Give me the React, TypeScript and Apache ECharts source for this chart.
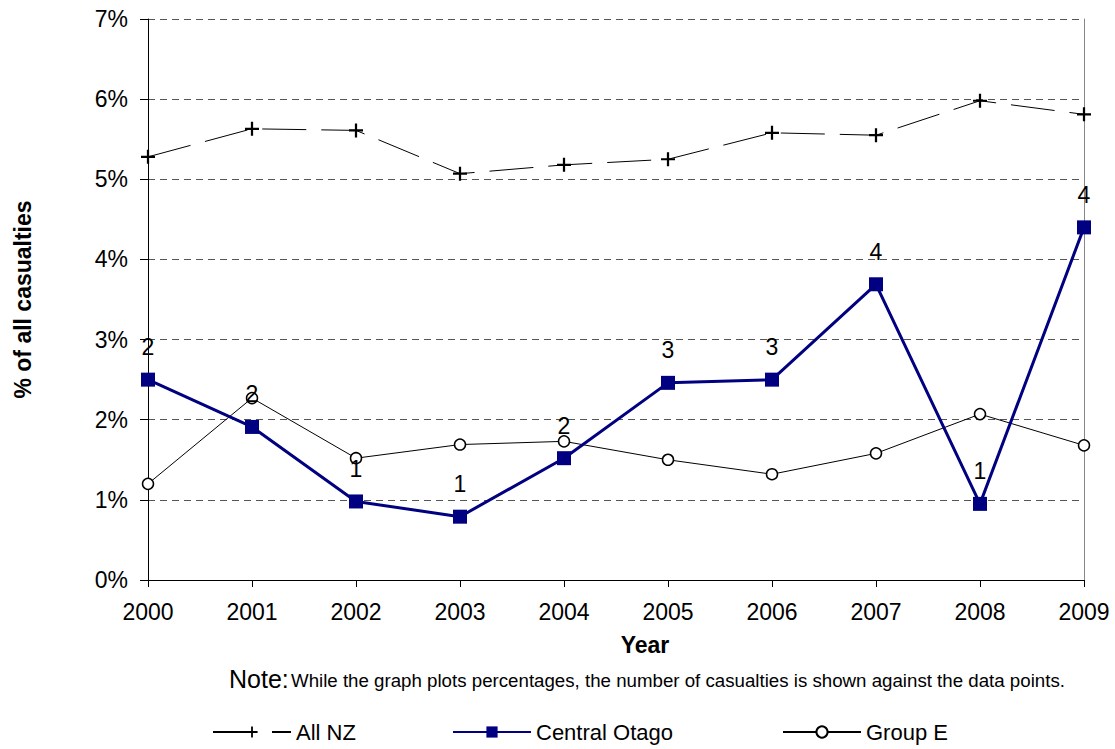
import React, { useEffect, useRef } from "react";
import * as echarts from "echarts";

const years = ["2000", "2001", "2002", "2003", "2004", "2005", "2006", "2007", "2008", "2009"];
const allNZ = [5.28, 5.63, 5.61, 5.07, 5.18, 5.25, 5.58, 5.55, 5.98, 5.81];
const centralOtago = [2.5, 1.91, 0.98, 0.79, 1.52, 2.46, 2.5, 3.69, 0.95, 4.4];
const groupE = [1.2, 2.27, 1.52, 1.69, 1.73, 1.5, 1.32, 1.58, 2.07, 1.68];
const casualtyCounts = [2, 2, 1, 1, 2, 3, 3, 4, 1, 4];

const FONT = "Liberation Sans, Arial, Helvetica, sans-serif";
const PLUS = "path://M4.2,0H5.8V4.2H10V5.8H5.8V10H4.2V5.8H0V4.2H4.2Z";

export default function App() {
  const ref = useRef<HTMLDivElement>(null);
  useEffect(() => {
    if (!ref.current) return;
    const chart = echarts.init(ref.current, null, { renderer: "svg" });
    const legendBase = {
      top: 719,
      itemWidth: 78,
      itemHeight: 14,
      itemGap: 5,
      padding: 2,
      textStyle: { fontFamily: FONT, fontSize: 22, color: "#000" },
    };
    chart.setOption({
      animation: false,
      backgroundColor: "#fff",
      textStyle: { fontFamily: FONT },
      grid: { left: 148, right: 31, top: 19, bottom: 169, containLabel: false },
      legend: [
        { ...legendBase, left: 210, data: ["All NZ"] },
        { ...legendBase, left: 450, data: ["Central Otago"] },
        { ...legendBase, left: 780, data: ["Group E"] },
      ],
      xAxis: {
        type: "category",
        data: years,
        boundaryGap: false,
        name: "Year",
        nameLocation: "middle",
        nameGap: 53,
        nameTextStyle: { fontFamily: FONT, fontSize: 23, fontWeight: "bold", color: "#000", padding: [0, 0, 0, 58] },
        axisLine: { lineStyle: { color: "#000", width: 1 } },
        axisTick: { show: true, alignWithLabel: true, length: 7, lineStyle: { color: "#000" } },
        axisLabel: { fontFamily: FONT, fontSize: 23, color: "#000", margin: 20 },
        splitLine: { show: false },
      },
      yAxis: [
        {
          type: "value",
          min: 0,
          max: 7,
          interval: 1,
          name: "% of all casualties",
          nameLocation: "middle",
          nameRotate: 90,
          nameGap: 114,
          nameTextStyle: { fontFamily: FONT, fontSize: 23, fontWeight: "bold", color: "#000" },
          axisLine: { show: true, lineStyle: { color: "#000", width: 1 } },
          axisTick: { show: true, length: 8, lineStyle: { color: "#000" } },
          axisLabel: { fontFamily: FONT, fontSize: 23, color: "#000", margin: 20, formatter: "{value}%" },
          splitLine: { show: true, lineStyle: { color: "#555", type: [7, 5], width: 1 } },
        },
        {
          type: "value",
          min: 0,
          max: 7,
          interval: 1,
          position: "right",
          axisLine: { show: true, lineStyle: { color: "#888", width: 1 } },
          axisTick: { show: false },
          axisLabel: { show: false },
          splitLine: { show: false },
        },
      ],
      series: [
        {
          name: "All NZ",
          type: "line",
          data: allNZ,
          symbol: PLUS,
          symbolSize: 14,
          itemStyle: { color: "#000" },
          lineStyle: { color: "#000", width: 1, type: [44, 15] },
          z: 3,
        },
        {
          name: "Central Otago",
          type: "line",
          data: centralOtago,
          symbol: "rect",
          symbolSize: 14,
          itemStyle: { color: "#000080" },
          lineStyle: { color: "#000080", width: 3 },
          label: {
            show: true,
            position: "top",
            distance: 14,
            fontFamily: FONT,
            fontSize: 23,
            color: "#000",
            formatter: (p: any) => String(casualtyCounts[p.dataIndex]),
          },
          z: 4,
        },
        {
          name: "Group E",
          type: "line",
          data: groupE,
          symbol: "circle",
          symbolSize: 11,
          itemStyle: { color: "#fff", borderColor: "#000", borderWidth: 1.5 },
          lineStyle: { color: "#000", width: 1 },
          z: 3,
        },
      ],
      graphic: [
        {
          type: "text",
          left: 229,
          top: 666,
          style: { text: "Note:", font: `25px ${FONT}`, fill: "#000" },
        },
        {
          type: "text",
          left: 291,
          top: 671,
          style: {
            text: "While the graph plots percentages, the number of casualties is shown against the data points.",
            font: `18.7px ${FONT}`,
            fill: "#000",
          },
        },
      ],
    });
    return () => chart.dispose();
  }, []);
  return <div ref={ref} style={{ position: "fixed", left: 0, top: 0, width: 1115, height: 749 }} />;
}
